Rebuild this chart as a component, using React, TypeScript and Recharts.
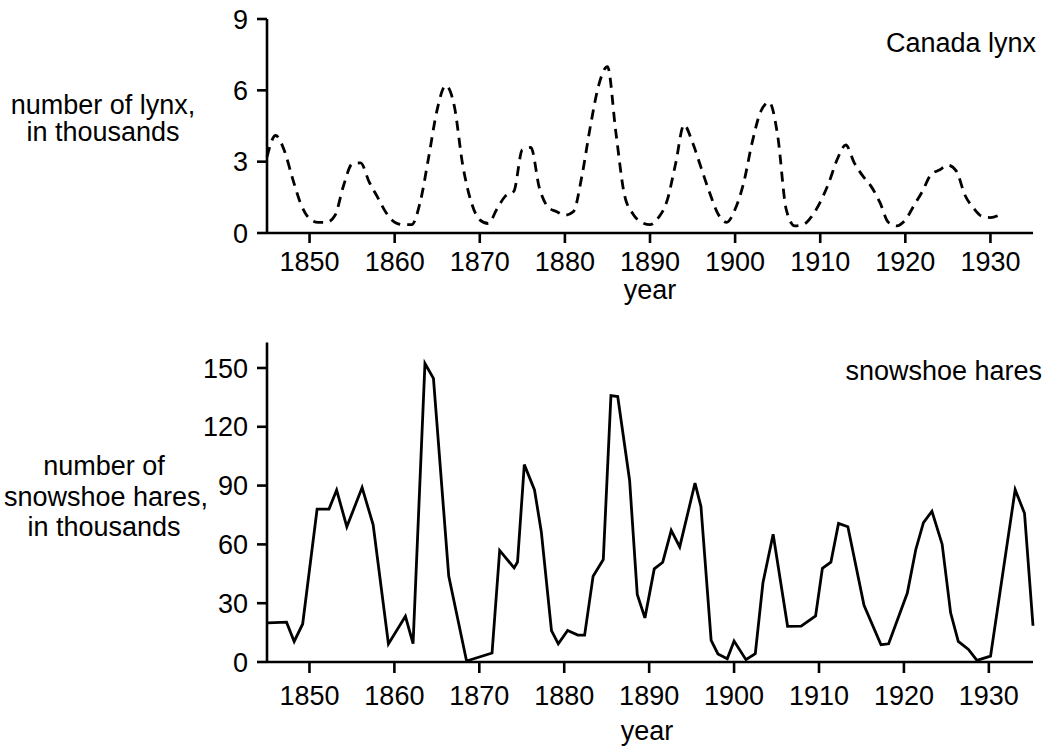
import { LineChart, Line, XAxis, YAxis } from 'recharts';

// values (thousands of animals)
const lynxYears = [
  1845, 1846, 1847, 1848, 1849, 1850, 1851, 1852, 1853, 1854,
  1855, 1856, 1857, 1858, 1859, 1860, 1861, 1862, 1863, 1864,
  1865, 1866, 1867, 1868, 1869, 1870, 1871, 1872, 1873, 1874,
  1875, 1876, 1877, 1878, 1879, 1880, 1881, 1882, 1883, 1884,
  1885, 1886, 1887, 1888, 1889, 1890, 1891, 1892, 1893, 1894,
  1895, 1896, 1897, 1898, 1899, 1900, 1901, 1902, 1903, 1904,
  1905, 1906, 1907, 1908, 1909, 1910, 1911, 1912, 1913, 1914,
  1915, 1916, 1917, 1918, 1919, 1920, 1921, 1922, 1923, 1924,
  1925, 1926, 1927, 1928, 1929, 1930, 1931,
];
const lynxValues = [
  3.2, 4.1, 3.5, 2.3, 1.2, 0.6, 0.45, 0.45, 0.75, 2.0,
  2.9, 2.95, 2.15, 1.5, 0.85, 0.45, 0.35, 0.35, 1.3, 3.2,
  5.2, 6.2, 5.35, 2.85, 1.3, 0.55, 0.4, 1.0, 1.55, 1.75,
  3.5, 3.6, 1.9, 1.1, 0.9, 0.75, 0.9, 2.4, 4.5, 6.25,
  7.0, 4.2, 1.6, 0.8, 0.45, 0.35, 0.65, 1.35, 2.9, 4.55,
  3.8, 2.75, 1.7, 0.8, 0.45, 1.0, 2.1, 3.8, 5.1, 5.5,
  4.1, 1.0, 0.3, 0.35, 0.7, 1.3, 2.1, 3.1, 3.7, 2.95,
  2.4, 1.95, 1.3, 0.45, 0.3, 0.55, 1.15, 1.75, 2.45, 2.65,
  2.85, 2.6, 1.6, 1.05, 0.7, 0.65, 0.75,
];

const hareYears = [
  1845.1, 1847.3, 1848.2, 1849.2, 1850.9, 1852.3, 1853.2, 1854.4, 1856.2, 1857.5,
  1859.3, 1861.3, 1862.2, 1863.6, 1864.6, 1866.4, 1868.5, 1871.5, 1872.4, 1874.1,
  1874.5, 1875.3, 1876.5, 1877.3, 1878.5, 1879.3, 1880.4, 1881.6, 1882.4, 1883.4,
  1884.6, 1885.5, 1886.3, 1887.7, 1888.6, 1889.5, 1890.6, 1891.6, 1892.6, 1893.6,
  1895.4, 1896.1, 1897.3, 1898.1, 1899.2, 1900.0, 1901.4, 1902.5, 1903.4, 1904.6,
  1906.3, 1907.9, 1909.6, 1910.4, 1911.4, 1912.3, 1913.4, 1915.3, 1917.3, 1918.2,
  1920.4, 1921.4, 1922.3, 1923.3, 1924.5, 1925.5, 1926.4, 1927.6, 1928.6, 1930.2,
  1933.1, 1934.2, 1935.2,
];
const hareValues = [
  20, 20.3, 10.5, 19.4, 78, 78, 87.7, 69, 89, 70,
  9.2, 23.3, 9.4, 152.3, 144.7, 43.8, 0.5, 4.6, 56.9, 48,
  51, 100.7, 87.8, 66.5, 16, 9.3, 16.1, 13.7, 13.7, 43.8,
  52.3, 135.9, 135.4, 92.6, 34.5, 22.5, 47.5, 50.9, 67.2, 58.7,
  91.3, 79.3, 11, 4.1, 1.6, 10.7, 1.2, 4.3, 40.4, 65.2,
  18.2, 18.3, 23.5, 47.8, 50.9, 70.7, 69, 28.9, 8.8, 9.3,
  35.2, 57.4, 71.1, 76.9, 60.1, 25.1, 10.5, 6.4, 0.8, 3,
  87.9, 75.9, 18.5,
];

const yearTicks = [1850, 1860, 1870, 1880, 1890, 1900, 1910, 1920, 1930];
const lynxTicks = [0, 3, 6, 9];
const hareTicks = [0, 30, 60, 90, 120, 150];

const lynxData = lynxYears.map((year, i) => ({ year, lynx: lynxValues[i] }));
const hareData = hareYears.map((year, i) => ({ year, hares: hareValues[i] }));

const FONT = '"Liberation Sans", Arial, Helvetica, sans-serif';
const INK = '#000';
const tickStyle = { fill: INK, fontSize: 27, fontFamily: FONT };
const axisStroke = { stroke: INK, strokeWidth: 2.6 };

const label = (extra: React.CSSProperties): React.CSSProperties => ({
  position: 'absolute',
  fontSize: 27,
  lineHeight: '27px',
  whiteSpace: 'nowrap',
  ...extra,
});

const App = () => {
  return (
    <div
      style={{
        position: 'absolute',
        left: 0,
        top: 0,
        width: 1049,
        height: 751,
        background: '#fff',
        color: INK,
        fontFamily: FONT,
        overflow: 'hidden',
      }}
    >
      {/* lynx panel */}
      <div style={{ position: 'absolute', left: 0, top: 0 }}>
        <LineChart width={1049} height={330} data={lynxData} margin={{ top: 19, right: 16, bottom: 37, left: 207 }}>
          <XAxis
            type="number"
            dataKey="year"
            domain={[1845, 1935]}
            ticks={yearTicks}
            interval={0}
            height={60}
            tickSize={10}
            tickMargin={9}
            axisLine={axisStroke}
            tickLine={axisStroke}
            tick={tickStyle}
          />
          <YAxis
            type="number"
            domain={[0, 9]}
            ticks={lynxTicks}
            interval={0}
            width={60}
            tickSize={10}
            tickMargin={9}
            axisLine={axisStroke}
            tickLine={axisStroke}
            tick={tickStyle}
          />
          <Line
            dataKey="lynx"
            type="monotone"
            stroke={INK}
            strokeWidth={2.8}
            strokeDasharray="10 7"
            dot={false}
            isAnimationActive={false}
          />
        </LineChart>
      </div>

      {/* hare panel */}
      <div style={{ position: 'absolute', left: 0, top: 330 }}>
        <LineChart width={1049} height={421} data={hareData} margin={{ top: 12.5, right: 16, bottom: 29, left: 207 }}>
          <XAxis
            type="number"
            dataKey="year"
            domain={[1845, 1935.2]}
            ticks={yearTicks}
            interval={0}
            height={60}
            tickSize={11}
            tickMargin={13}
            axisLine={axisStroke}
            tickLine={axisStroke}
            tick={tickStyle}
          />
          <YAxis
            type="number"
            domain={[0, 163]}
            ticks={hareTicks}
            interval={0}
            width={60}
            tickSize={10}
            tickMargin={9}
            axisLine={axisStroke}
            tickLine={axisStroke}
            tick={tickStyle}
          />
          <Line
            dataKey="hares"
            type="linear"
            stroke={INK}
            strokeWidth={2.8}
            strokeLinejoin="miter"
            dot={false}
            isAnimationActive={false}
          />
        </LineChart>
      </div>

      <div style={label({ left: 3, width: 200, top: 92, textAlign: 'center' })}>
        number of lynx,
        <br />
        in thousands
      </div>
      <div style={label({ right: 13, top: 30 })}>Canada lynx</div>
      <div style={label({ left: 600, width: 100, top: 277, textAlign: 'center' })}>year</div>

      <div style={label({ left: 4, width: 200, top: 451, lineHeight: '30.5px', textAlign: 'center' })}>
        number of
        <br />
        snowshoe hares,
        <br />
        in thousands
      </div>
      <div style={label({ right: 7, top: 358 })}>snowshoe hares</div>
      <div style={label({ left: 597, width: 100, top: 718, textAlign: 'center' })}>year</div>
    </div>
  );
};

export default App;
